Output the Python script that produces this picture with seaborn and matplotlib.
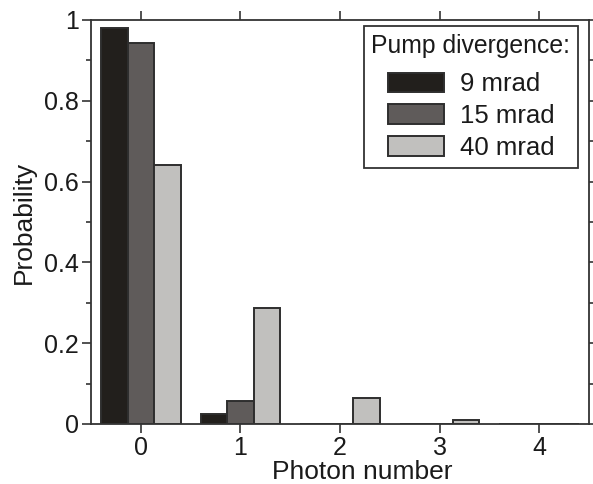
import matplotlib
matplotlib.use("Agg")
import matplotlib.pyplot as plt
from matplotlib.ticker import MultipleLocator, FuncFormatter
import numpy as np
import pandas as pd
import seaborn as sns

# Photon-number distributions for three pump divergences
photon_numbers = [0, 1, 2, 3, 4]
series_names = ["9 mrad", "15 mrad", "40 mrad"]
p_9mrad = [0.980, 0.025, 0.0, 0.0, 0.0]
p_15mrad = [0.943, 0.057, 0.0, 0.0, 0.0]
p_40mrad = [0.642, 0.286, 0.064, 0.010, 0.001]
bar_colors = ["#221f1c", "#5f5b5a", "#c1c0be"]

df = pd.DataFrame({
    "Photon number": photon_numbers * 3,
    "Probability": p_9mrad + p_15mrad + p_40mrad,
    "Pump divergence": [s for s in series_names for _ in photon_numbers],
})

sns.set_theme(style="white")
plt.rcParams["font.family"] = ["Liberation Sans", "DejaVu Sans"]
edge = "#2e2e2e"

fig = plt.figure(figsize=(5.93, 4.84), dpi=100)
ax = fig.add_axes([0.1535, 0.124, 0.8397, 0.8347])

sns.barplot(data=df, x="Photon number", y="Probability", hue="Pump divergence",
            hue_order=series_names, palette=bar_colors, width=0.8,
            edgecolor=edge, linewidth=1.4, saturation=1, ax=ax, legend=True)

ax.set_xlim(-0.5, 4.5)
ax.set_ylim(0, 1.0)
ax.yaxis.set_major_locator(MultipleLocator(0.2))
ax.yaxis.set_minor_locator(MultipleLocator(0.1))
ax.yaxis.set_major_formatter(FuncFormatter(lambda v, _: f"{v:g}"))

for side in ["left", "right", "top", "bottom"]:
    ax.spines[side].set_visible(True)
    ax.spines[side].set_color("#333333")
    ax.spines[side].set_linewidth(1.3)

ax.tick_params(axis="both", which="major", direction="out", length=6.5, width=1.2,
               color="#333333", labelsize=18, labelcolor="#1a1a1a", pad=2,
               top=True, right=True, left=True, bottom=True)
ax.tick_params(axis="y", which="minor", direction="out", length=3.8, width=1.2,
               color="#333333", left=True, right=True)

ax.set_xlabel("Photon number", fontsize=19, color="#1a1a1a", va="top")
ax.xaxis.set_label_coords(0.544, -0.088)
ax.set_ylabel("Probability", fontsize=19, color="#1a1a1a", labelpad=6)

handles, labels = ax.get_legend_handles_labels()
leg = ax.legend(handles, labels, title="Pump divergence:", loc="upper right",
                bbox_to_anchor=(0.978, 0.985), fontsize=18.5, title_fontsize=17.8,
                frameon=True, fancybox=False, framealpha=1, edgecolor="#333333",
                handlelength=2.2, handleheight=0.8, handletextpad=0.6,
                labelspacing=0.3, borderpad=0.3, borderaxespad=0)
# a little more room between the title and the entries
leg._legend_box.sep = leg._legend_box.sep + 5
leg.get_frame().set_linewidth(1.3)
leg.get_title().set_color("#1a1a1a")
for t in leg.get_texts():
    t.set_color("#1a1a1a")

fig.savefig("out.png", dpi=100)
